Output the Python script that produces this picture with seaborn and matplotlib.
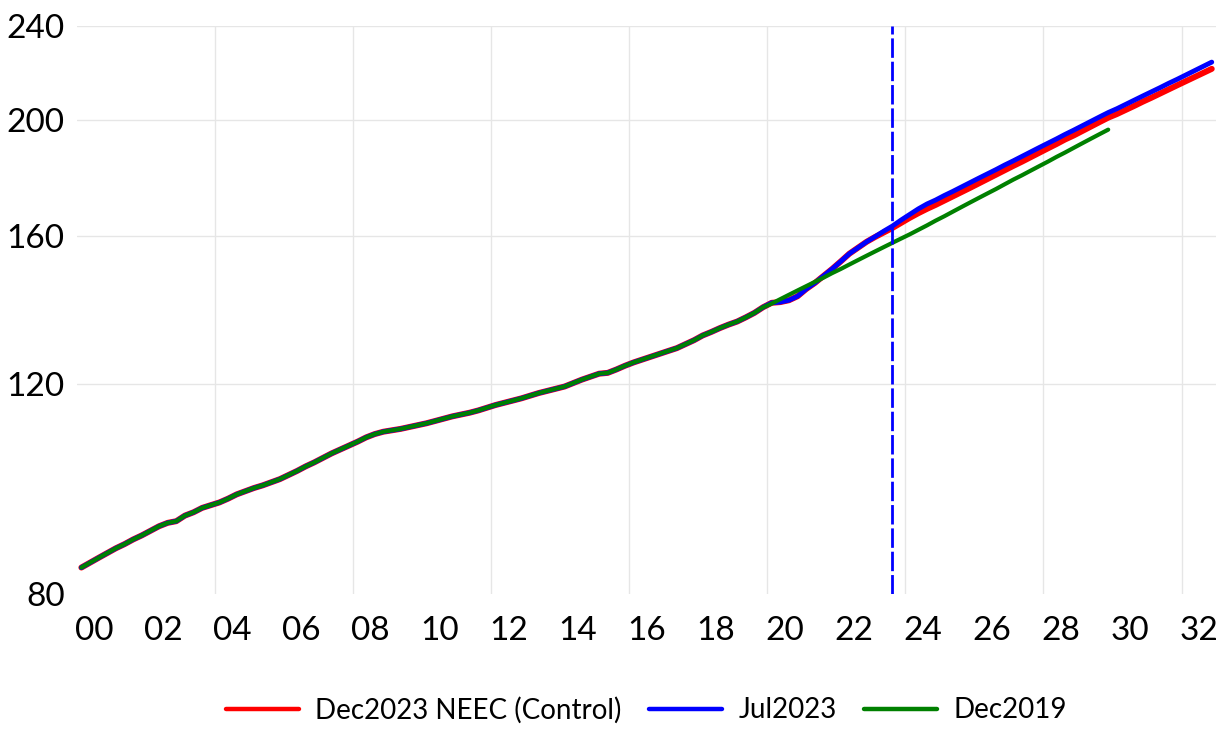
import matplotlib

matplotlib.use("Agg")
import matplotlib.pyplot as plt
import numpy as np
import pandas as pd
import seaborn as sns
from matplotlib.ticker import NullLocator

# %%
# quarterly index levels, 2000Q1 onwards
history = [
    84.2, 85.0, 85.8, 86.6,
    87.4, 88.1, 88.9, 89.6,
    90.4, 91.2, 91.8, 92.1,
    93.1, 93.7, 94.5, 95.0,
    95.5, 96.2, 97.0, 97.6,
    98.2, 98.7, 99.3, 99.9,
    100.7, 101.5, 102.4, 103.2,
    104.1, 105.0, 105.8, 106.6,
    107.4, 108.3, 109.0, 109.5,
    109.8, 110.1, 110.5, 110.9,
    111.3, 111.8, 112.3, 112.8,
    113.2, 113.6, 114.1, 114.7,
    115.3, 115.8, 116.3, 116.8,
    117.4, 118.0, 118.5, 119.0,
    119.5, 120.3, 121.1, 121.8,
    122.5, 122.7, 123.5, 124.4,
    125.2, 125.9, 126.6, 127.3,
    128.0, 128.7, 129.7, 130.7,
    131.9, 132.8, 133.8, 134.7,
    135.5, 136.6, 137.8, 139.3,
]

# from 2020Q1
dec2023_proj = [
    140.5, 140.7, 141.2, 142.3,
    144.3, 146.0, 148.0, 150.0,
    152.2, 154.5, 156.3, 158.1,
    159.6, 161.0, 162.4, 164.0,
    165.6, 167.1, 168.5, 169.8,
    171.2, 172.6, 174.0, 175.5,
    177.0, 178.5, 180.0, 181.6,
    183.1, 184.6, 186.2, 187.8,
    189.4, 191.0, 192.7, 194.2,
    195.9, 197.6, 199.3, 201.0,
    202.4, 204.0, 205.6, 207.3,
    208.9, 210.6, 212.3, 214.0,
    215.7, 217.4, 219.1, 220.9,
]

jul2023_proj = [
    140.5, 140.7, 141.2, 142.3,
    144.3, 146.0, 148.0, 150.0,
    152.2, 154.5, 156.3, 158.1,
    159.7, 161.4, 163.0, 164.9,
    166.7, 168.5, 170.1, 171.4,
    172.9, 174.3, 175.8, 177.3,
    178.8, 180.3, 181.8, 183.4,
    184.9, 186.5, 188.1, 189.7,
    191.3, 192.9, 194.6, 196.2,
    197.9, 199.6, 201.3, 203.0,
    204.5, 206.2, 207.9, 209.6,
    211.3, 213.0, 214.8, 216.5,
    218.3, 220.1, 221.9, 223.8,
]

dec2019_proj = [
    140.3, 141.5, 142.7, 143.9,
    145.1, 146.3, 147.5, 148.8,
    150.0, 151.3, 152.6, 153.9,
    155.2, 156.5, 157.8, 159.1,
    160.4, 161.8, 163.2, 164.7,
    166.1, 167.6, 169.1, 170.6,
    172.1, 173.6, 175.1, 176.7,
    178.3, 179.8, 181.4, 183.0,
    184.6, 186.3, 187.9, 189.6,
    191.3, 193.0, 194.7, 196.4,
]

series_names = ["Dec2023 NEEC (Control)", "Jul2023", "Dec2019"]
series_colors = ["#ff0000", "#0000ff", "#008000"]
series_widths = [4.3, 3.5, 3.0]

year_labels = ["00", "02", "04", "06", "08", "10", "12", "14", "16",
               "18", "20", "22", "24", "26", "28", "30", "32"]
y_ticks = [80, 120, 160, 200, 240]
vintage_marker = 2023.625

# %%
quarters = np.arange(2000, 2033, 0.25) + 0.125
values = [history + dec2023_proj, history + jul2023_proj, history + dec2019_proj]

df = pd.concat(
    [
        pd.DataFrame({"t": quarters[: len(v)], "value": v, "series": name})
        for name, v in zip(series_names, values)
    ]
)

# %%
sns.set_style("white")
plt.rcParams["font.family"] = ["Lato", "DejaVu Sans"]

fig = plt.figure(figsize=(12.25, 7.3), dpi=100)
ax = fig.add_axes([0.0629, 0.1863, 0.9298, 0.7781])

for name, color, lw in zip(series_names, series_colors, series_widths):
    sns.lineplot(
        df[df.series == name], x="t", y="value",
        color=color, linewidth=lw, label=name, ax=ax,
    )

ax.axvline(vintage_marker, color="#0000ff", linewidth=2.0, dashes=(7, 1.4))

ax.set_yscale("log")
ax.set_ylim(80, 240)
ax.set_yticks(y_ticks)
ax.set_yticklabels([str(t) for t in y_ticks])
ax.yaxis.set_minor_locator(NullLocator())

ax.set_xlim(2000, 2033)
ax.set_xticks(np.arange(2000, 2033, 2) + 0.5)
ax.set_xticklabels(year_labels)
ax.set_xticks(np.arange(2004, 2033, 4), minor=True)

ax.grid(False)
ax.xaxis.grid(True, which="minor", color="#e6e6e6", linewidth=1)
ax.yaxis.grid(True, which="major", color="#e6e6e6", linewidth=1)
ax.yaxis.get_gridlines()[0].set_visible(False)

ax.tick_params(axis="both", which="both", length=0, labelsize=24, labelcolor="black")
ax.tick_params(axis="y", pad=9)
ax.tick_params(axis="x", pad=16)

for s in ax.spines.values():
    s.set_visible(False)

ax.set_xlabel("")
ax.set_ylabel("")

leg = ax.legend(
    loc="center",
    bbox_to_anchor=(0.5, -0.204),
    ncol=3,
    frameon=False,
    fontsize=20,
    handlelength=2.6,
    handletextpad=0.6,
    columnspacing=1.0,
    labelcolor="black",
)
for h in leg.get_lines():
    h.set_linewidth(3.2)

fig.savefig("out.png", dpi=100)
